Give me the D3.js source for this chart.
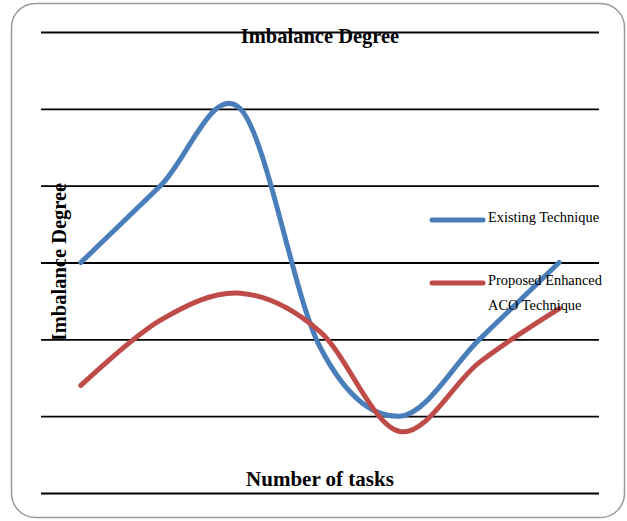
<!DOCTYPE html>
<html>
<head>
<meta charset="utf-8">
<script src="https://cdn.jsdelivr.net/npm/d3@7/dist/d3.min.js"></script>
<style>
  html, body { margin: 0; padding: 0; background: #fff; }
  svg { display: block; }
  text { font-family: "Liberation Serif", "Times New Roman", serif; fill: #000; }
</style>
</head>
<body>
<svg id="chart" width="627" height="521"></svg>
<script>
// Task-count categories (axis labels are not printed on this chart)
const categories = ["1", "2", "3", "4", "5", "6", "7"];
// Imbalance degree of each technique per category
const existingTechnique = [3.0, 4.0, 5.0, 1.9, 1.0, 2.0, 3.0];
const proposedTechnique = [1.4, 2.25, 2.6, 2.1, 0.8, 1.7, 2.4];
// Value gridlines
const yTicks = [0, 1, 2, 3, 4, 5, 6];

const seriesNames = ["Existing Technique", ["Proposed Enhanced", "ACO Technique"]];
const seriesColors = ["#4a7ebb", "#be4b48"];

const svg = d3.select("#chart");

// Rounded frame around the whole chart
svg.append("rect")
  .attr("x", 11.5).attr("y", 3.5)
  .attr("width", 613).attr("height", 514)
  .attr("rx", 24).attr("ry", 24)
  .attr("fill", "#fff")
  .attr("stroke", "#9a9a9a")
  .attr("stroke-width", 1.5);

const plot = { left: 41, right: 599, top: 32, bottom: 493 };

const x = d3.scalePoint()
  .domain(categories)
  .range([plot.left, plot.right])
  .padding(0.5);

const y = d3.scaleLinear()
  .domain([0, 6])
  .range([plot.bottom, plot.top]);

// Horizontal gridlines drawn through a left axis with full-width ticks
const grid = svg.append("g")
  .attr("transform", `translate(${plot.left},0)`)
  .call(d3.axisLeft(y)
    .tickValues(yTicks)
    .tickSize(-(plot.right - plot.left))
    .tickFormat(""));
grid.select(".domain").remove();
grid.selectAll(".tick line")
  .attr("stroke", "#000")
  .attr("stroke-width", 1.8);

// Smoothed series lines
const line = d3.line()
  .x((d, i) => x(categories[i]))
  .y(d => y(d))
  .curve(d3.curveCardinal.tension(0));

[existingTechnique, proposedTechnique].forEach((values, i) => {
  svg.append("path")
    .datum(values)
    .attr("d", line)
    .attr("fill", "none")
    .attr("stroke", seriesColors[i])
    .attr("stroke-width", 5)
    .attr("stroke-linecap", "round")
    .attr("stroke-linejoin", "round");
});

// Chart title
svg.append("text")
  .attr("x", 320).attr("y", 43)
  .attr("text-anchor", "middle")
  .attr("font-weight", "bold")
  .attr("font-size", 20.5)
  .text("Imbalance Degree");

// Y-axis title
svg.append("text")
  .attr("transform", "translate(66,262) rotate(-90)")
  .attr("text-anchor", "middle")
  .attr("font-weight", "bold")
  .attr("font-size", 20.5)
  .text("Imbalance Degree");

// X-axis title
svg.append("text")
  .attr("x", 320).attr("y", 486)
  .attr("text-anchor", "middle")
  .attr("font-weight", "bold")
  .attr("font-size", 21)
  .text("Number of tasks");

// Legend
const legendRows = [
  { y: 220, textY: [222] },
  { y: 283, textY: [285, 310] }
];
legendRows.forEach((row, i) => {
  svg.append("line")
    .attr("x1", 432).attr("x2", 483)
    .attr("y1", row.y).attr("y2", row.y)
    .attr("stroke", seriesColors[i])
    .attr("stroke-width", 5)
    .attr("stroke-linecap", "round");
  const label = [].concat(seriesNames[i]);
  label.forEach((t, j) => {
    svg.append("text")
      .attr("x", 488).attr("y", row.textY[j])
      .attr("font-size", 14.4)
      .text(t);
  });
});
</script>
</body>
</html>
